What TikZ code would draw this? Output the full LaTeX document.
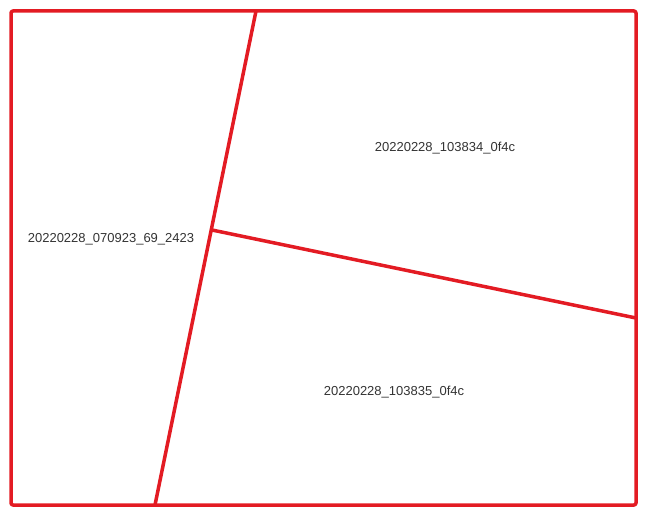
\documentclass[tikz,border=0pt]{standalone}
\usepackage{fontspec}
\setmainfont{Liberation Sans}
\usetikzlibrary{positioning, calc}

\definecolor{edgered}{HTML}{E31B23}
\definecolor{labelgray}{HTML}{333333}

\begin{document}
\begin{tikzpicture}[x=1pt, y=-1pt,
    border/.style={draw=edgered, line width=3.5pt, line join=round, line cap=round},
    cutline/.style={draw=edgered, line width=3.5pt, line cap=round},
    region/.style={font=\fontsize{13}{15}\selectfont, text=labelgray}]
\useasboundingbox (0,0) rectangle (648,519);

% outer frame
\draw[border, rounded corners=2pt] (11,11) rectangle (636,505);

% split points
\coordinate (topcut) at (256,11);
\coordinate (botcut) at (155,505);
\coordinate (midcut) at (212,230);
\coordinate (rightcut) at (636,318);

\draw[cutline] (topcut) -- (botcut);
\draw[cutline] (midcut) -- (rightcut);

% region labels
\node[region] (westpart) at (111,239.5) {20220228\_070923\_69\_2423};
\node[region] (northpart) at (445,148.5) {20220228\_103834\_0f4c};
\node[region] (southpart) at (394,392.5) {20220228\_103835\_0f4c};
\end{tikzpicture}
\end{document}
